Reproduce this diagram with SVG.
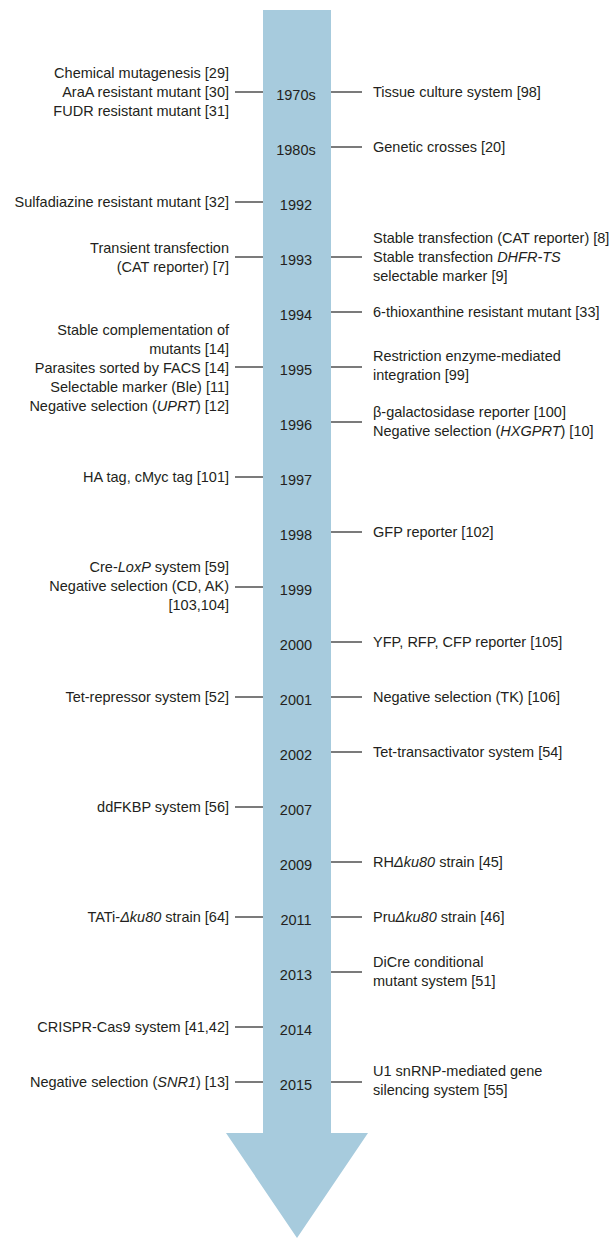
<svg xmlns="http://www.w3.org/2000/svg" width="611" height="1239" viewBox="0 0 611 1239">
<style>
text{font-family:"Liberation Sans",Arial,sans-serif;font-size:14.5px;fill:#231f20}
.l{text-anchor:end}
.y{text-anchor:middle}
.i{font-style:italic}
.c line{stroke:#333;stroke-width:1.3}
</style>
<g id="arrow">
<polygon points="263,10 331,10 331,1133 368,1133 297,1238 226,1133 263,1133" fill="#a7cbdd"/>
</g>
<g class="c" id="connectors">
<line x1="235" y1="92" x2="263" y2="92"/><line x1="331" y1="92" x2="362" y2="92"/>
<line x1="331" y1="147" x2="362" y2="147"/>
<line x1="235" y1="202" x2="263" y2="202"/>
<line x1="235" y1="257" x2="263" y2="257"/><line x1="331" y1="257" x2="362" y2="257"/>
<line x1="331" y1="312" x2="362" y2="312"/>
<line x1="235" y1="367" x2="263" y2="367"/><line x1="331" y1="367" x2="362" y2="367"/>
<line x1="331" y1="422" x2="362" y2="422"/>
<line x1="235" y1="477" x2="263" y2="477"/>
<line x1="331" y1="532" x2="362" y2="532"/>
<line x1="235" y1="587" x2="263" y2="587"/>
<line x1="331" y1="642" x2="362" y2="642"/>
<line x1="235" y1="697" x2="263" y2="697"/><line x1="331" y1="697" x2="362" y2="697"/>
<line x1="331" y1="752" x2="362" y2="752"/>
<line x1="235" y1="807" x2="263" y2="807"/>
<line x1="331" y1="862" x2="362" y2="862"/>
<line x1="235" y1="917" x2="263" y2="917"/><line x1="331" y1="917" x2="362" y2="917"/>
<line x1="331" y1="972" x2="362" y2="972"/>
<line x1="235" y1="1027" x2="263" y2="1027"/>
<line x1="235" y1="1082" x2="263" y2="1082"/><line x1="331" y1="1082" x2="362" y2="1082"/>
</g>
<g id="y1970s">
<text class="y" x="296" y="100">1970s</text>
<text class="l" x="229" y="78">Chemical mutagenesis [29]</text>
<text class="l" x="229" y="97">AraA resistant mutant [30]</text>
<text class="l" x="229" y="116">FUDR resistant mutant [31]</text>
<text x="373" y="97">Tissue culture system [98]</text>
</g>
<g id="y1980s">
<text class="y" x="296" y="155">1980s</text>
<text x="373" y="152">Genetic crosses [20]</text>
</g>
<g id="y1992">
<text class="y" x="296" y="210">1992</text>
<text class="l" x="229" y="207">Sulfadiazine resistant mutant [32]</text>
</g>
<g id="y1993">
<text class="y" x="296" y="265">1993</text>
<text class="l" x="229" y="253">Transient transfection</text>
<text class="l" x="229" y="272">(CAT reporter) [7]</text>
<text x="373" y="243">Stable transfection (CAT reporter) [8]</text>
<text x="373" y="262">Stable transfection <tspan class="i">DHFR-TS</tspan></text>
<text x="373" y="281">selectable marker [9]</text>
</g>
<g id="y1994">
<text class="y" x="296" y="320">1994</text>
<text x="373" y="317">6-thioxanthine resistant mutant [33]</text>
</g>
<g id="y1995">
<text class="y" x="296" y="375">1995</text>
<text class="l" x="229" y="335">Stable complementation of</text>
<text class="l" x="229" y="354">mutants [14]</text>
<text class="l" x="229" y="373">Parasites sorted by FACS [14]</text>
<text class="l" x="229" y="392">Selectable marker (Ble) [11]</text>
<text class="l" x="229" y="411">Negative selection (<tspan class="i">UPRT</tspan>) [12]</text>
<text x="373" y="361">Restriction enzyme-mediated</text>
<text x="373" y="380">integration [99]</text>
</g>
<g id="y1996">
<text class="y" x="296" y="430">1996</text>
<text x="373" y="417">β-galactosidase reporter [100]</text>
<text x="373" y="436">Negative selection (<tspan class="i">HXGPRT</tspan>) [10]</text>
</g>
<g id="y1997">
<text class="y" x="296" y="485">1997</text>
<text class="l" x="229" y="482">HA tag, cMyc tag [101]</text>
</g>
<g id="y1998">
<text class="y" x="296" y="540">1998</text>
<text x="373" y="537">GFP reporter [102]</text>
</g>
<g id="y1999">
<text class="y" x="296" y="595">1999</text>
<text class="l" x="229" y="572">Cre-<tspan class="i">LoxP</tspan> system [59]</text>
<text class="l" x="229" y="591">Negative selection (CD, AK)</text>
<text class="l" x="229" y="610">[103,104]</text>
</g>
<g id="y2000">
<text class="y" x="296" y="650">2000</text>
<text x="373" y="647">YFP, RFP, CFP reporter [105]</text>
</g>
<g id="y2001">
<text class="y" x="296" y="705">2001</text>
<text class="l" x="229" y="702">Tet-repressor system [52]</text>
<text x="373" y="702">Negative selection (TK) [106]</text>
</g>
<g id="y2002">
<text class="y" x="296" y="760">2002</text>
<text x="373" y="757">Tet-transactivator system [54]</text>
</g>
<g id="y2007">
<text class="y" x="296" y="815">2007</text>
<text class="l" x="229" y="812">ddFKBP system [56]</text>
</g>
<g id="y2009">
<text class="y" x="296" y="870">2009</text>
<text x="373" y="867">RH<tspan class="i">Δku80</tspan> strain [45]</text>
</g>
<g id="y2011">
<text class="y" x="296" y="925">2011</text>
<text class="l" x="229" y="922">TATi-<tspan class="i">Δku80</tspan> strain [64]</text>
<text x="373" y="922">Pru<tspan class="i">Δku80</tspan> strain [46]</text>
</g>
<g id="y2013">
<text class="y" x="296" y="980">2013</text>
<text x="373" y="967">DiCre conditional</text>
<text x="373" y="986">mutant system [51]</text>
</g>
<g id="y2014">
<text class="y" x="296" y="1035">2014</text>
<text class="l" x="229" y="1032">CRISPR-Cas9 system [41,42]</text>
</g>
<g id="y2015">
<text class="y" x="296" y="1090">2015</text>
<text class="l" x="229" y="1087">Negative selection (<tspan class="i">SNR1</tspan>) [13]</text>
<text x="373" y="1076">U1 snRNP-mediated gene</text>
<text x="373" y="1095">silencing system [55]</text>
</g>
</svg>
